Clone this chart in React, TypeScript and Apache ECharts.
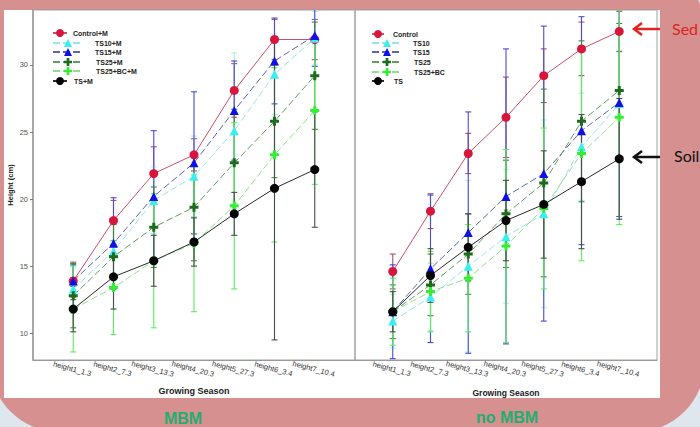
import React, { useEffect, useRef } from "react";
import * as echarts from "echarts";

// ---------- data ----------
const categories = [
  "height1_1.3",
  "height2_7.3",
  "height3_13.3",
  "height4_20.3",
  "height5_27.3",
  "height6_3.4",
  "height7_10.4",
];
const yTickValues = [10, 15, 20, 25, 30];

// MBM panel (left)
const mbmNames = ["Control+M", "TS10+M", "TS15+M", "TS25+M", "TS25+BC+M", "TS+M"];
const mbmControl = [13.9, 18.4, 21.9, 23.3, 28.1, 31.9, 31.9];
const mbmTS10 = [13.3, 16.1, 19.9, 21.7, 25.1, 29.3, 32.0];
const mbmTS15 = [13.9, 16.7, 20.2, 22.7, 26.6, 30.3, 32.2];
const mbmTS25 = [12.8, 15.7, 17.9, 19.4, 22.7, 25.8, 29.2];
const mbmTS25BC = [11.8, 13.4, 15.4, 16.7, 19.5, 23.3, 26.6];
const mbmTS = [11.8, 14.2, 15.4, 16.8, 18.9, 20.8, 22.2];
// error bar half-widths
const mbmControlErr = [1.4, 1.5, 2.0, 1.2, 2.0, 1.5, 1.5];
const mbmTS10Err = [1.8, 2.5, 2.5, 3.0, 5.8, 3.0, 2.0];
const mbmTS15Err = [1.2, 3.4, 4.9, 5.3, 3.7, 3.2, 2.3];
const mbmTS25Err = [2.4, 2.4, 3.0, 4.0, 4.0, 4.2, 4.0];
const mbmTS25BCErr = [3.2, 3.5, 5.0, 5.1, 6.2, 6.5, 5.5];
const mbmTSErr = [1.7, 2.4, 1.9, 1.8, 1.6, 11.3, 4.3];

// no MBM panel (right)
const noMbmNames = ["Control", "TS10", "TS15", "TS25", "TS25+BC", "TS"];
const noControl = [14.6, 19.1, 23.4, 26.1, 29.2, 31.2, 32.5];
const noTS10 = [10.9, 12.7, 15.0, 17.2, 18.9, 23.9, 27.1];
const noTS15 = [11.6, 14.8, 17.5, 20.2, 21.9, 25.1, 27.2];
const noTS25 = [11.6, 13.6, 15.9, 18.9, 21.2, 25.8, 28.1];
const noTS25BC = [11.6, 13.1, 14.1, 16.5, 19.3, 23.4, 26.1];
const noTS = [11.6, 14.3, 16.4, 18.4, 19.6, 21.3, 23.0];
const noControlErr = [1.3, 1.3, 1.5, 3.0, 2.0, 2.0, 1.5];
const noTS10Err = [2.0, 2.5, 6.4, 5.0, 7.0, 4.0, 4.0];
const noTS15Err = [3.5, 5.5, 9.0, 11.0, 11.0, 8.5, 8.5];
const noTS25Err = [2.0, 2.3, 3.0, 4.0, 7.0, 6.0, 5.0];
const noTS25BCErr = [2.5, 3.0, 4.0, 7.2, 6.0, 8.0, 8.0];
const noTSErr = [1.5, 2.0, 2.5, 3.0, 4.0, 5.0, 4.5];

// ---------- styles ----------
const PLUS = "path://M3,0H6V3H9V6H6V9H3V6H0V3H3Z";
const styles = [
  { symbol: "circle", marker: "#d8163c", line: "#c8506a", dash: "solid", err: "#a85070" },
  { symbol: "triangle", marker: "#38eef0", line: "#98e4e8", dash: [7, 3], err: "#a6eef0" },
  { symbol: "triangle", marker: "#1010e6", line: "#5866b4", dash: [7, 3], err: "#4a4ad6" },
  { symbol: PLUS, marker: "#1d6b1d", line: "#5fa05f", dash: [7, 3], err: "#3d8a3d" },
  { symbol: PLUS, marker: "#34ee34", line: "#8ee08e", dash: [7, 3], err: "#5cec5c" },
  { symbol: "circle", marker: "#050505", line: "#2a2a2a", dash: "solid", err: "#4a4a4a" },
];

const leftLegendLayout = [
  { left: 52, cy: 34, w: 14, pad: 1 },
  { left: 52, cy: 44, w: 30, pad: 7 },
  { left: 52, cy: 53, w: 30, pad: 7 },
  { left: 52, cy: 63, w: 30, pad: 8 },
  { left: 52, cy: 72, w: 30, pad: 8 },
  { left: 52, cy: 82, w: 14, pad: 2 },
];
const rightLegendLayout = [
  { left: 371, cy: 35, w: 12, pad: 4 },
  { left: 371, cy: 44, w: 30, pad: 6 },
  { left: 371, cy: 53, w: 30, pad: 6 },
  { left: 371, cy: 63, w: 30, pad: 7 },
  { left: 371, cy: 73, w: 30, pad: 7 },
  { left: 371, cy: 82, w: 12, pad: 5 },
];

function makeErr(color: string) {
  return (params: any, api: any) => {
    const x = api.value(0);
    const lo = api.coord([x, api.value(1)]);
    const hi = api.coord([x, api.value(2)]);
    const cap = 3;
    const style = { stroke: color, lineWidth: 1.1 };
    return {
      type: "group",
      children: [
        { type: "line", shape: { x1: lo[0], y1: lo[1], x2: hi[0], y2: hi[1] }, style },
        { type: "line", shape: { x1: lo[0] - cap, y1: lo[1], x2: lo[0] + cap, y2: lo[1] }, style },
        { type: "line", shape: { x1: hi[0] - cap, y1: hi[1], x2: hi[0] + cap, y2: hi[1] }, style },
      ],
    };
  };
}

function panel(gi: number, names: string[], vals: number[][], errs: number[][], layout: any[]) {
  const series: any[] = [];
  const legends: any[] = [];
  names.forEach((name, k) => {
    const st = styles[k];
    series.push({
      type: "custom",
      name: name + " err",
      xAxisIndex: gi,
      yAxisIndex: gi,
      clip: true,
      z: 1,
      silent: true,
      data: categories.map((c, i) => [i + 1, vals[k][i] - errs[k][i], vals[k][i] + errs[k][i]]),
      encode: { x: 0, y: [1, 2] },
      renderItem: makeErr(st.err),
    });
  });
  names.forEach((name, k) => {
    const st = styles[k];
    series.push({
      type: "line",
      name,
      xAxisIndex: gi,
      yAxisIndex: gi,
      z: 3,
      data: categories.map((c, i) => [i + 1, vals[k][i]]),
      symbol: st.symbol,
      symbolSize: 9,
      itemStyle: { color: st.marker },
      lineStyle: { color: st.line, width: 1, type: st.dash },
      emphasis: { disabled: true },
    });
    const L = layout[k];
    legends.push({
      data: [name],
      left: L.left,
      top: L.cy - 5,
      padding: 0,
      itemGap: 0,
      itemWidth: L.w,
      itemHeight: 10,
      selectedMode: false,
      textStyle: {
        fontSize: 7,
        fontWeight: "bold",
        fontFamily: "Liberation Sans",
        color: "#222",
        padding: [0, 0, 0, L.pad],
      },
    });
  });
  return { series, legends };
}

function xAxisFor(gi: number, nameGap: number, nameSize: number) {
  return {
    type: "value",
    gridIndex: gi,
    min: 0,
    max: 8,
    interval: 1,
    name: "Growing Season",
    nameLocation: "middle",
    nameGap,
    nameTextStyle: { fontSize: nameSize, fontWeight: "bold", color: "#222", fontFamily: "Liberation Sans" },
    axisLine: { show: true, lineStyle: { color: "#9a9a9a", width: 1 } },
    axisTick: { show: false },
    splitLine: { show: false },
    axisLabel: {
      formatter: (v: number) => categories[v - 1] ?? "",
      rotate: -15,
      align: "center",
      verticalAlign: "top",
      margin: 5,
      fontSize: 7.5,
      color: "#333",
      fontFamily: "Liberation Sans",
    },
  };
}

function buildOption() {
  const left = panel(
    0,
    mbmNames,
    [mbmControl, mbmTS10, mbmTS15, mbmTS25, mbmTS25BC, mbmTS],
    [mbmControlErr, mbmTS10Err, mbmTS15Err, mbmTS25Err, mbmTS25BCErr, mbmTSErr],
    leftLegendLayout
  );
  const right = panel(
    1,
    noMbmNames,
    [noControl, noTS10, noTS15, noTS25, noTS25BC, noTS],
    [noControlErr, noTS10Err, noTS15Err, noTS25Err, noTS25BCErr, noTSErr],
    rightLegendLayout
  );

  return {
    animation: false,
    backgroundColor: "#dfe7ee",
    grid: [
      { left: 33, top: 10, width: 322, height: 350, show: true, borderColor: "#a0a0a0", borderWidth: 1, backgroundColor: "transparent" },
      { left: 355, top: 10, width: 302, height: 350, show: true, borderColor: "#a0a0a0", borderWidth: 1, backgroundColor: "transparent" },
    ],
    xAxis: [xAxisFor(0, 26, 9), xAxisFor(1, 28, 8.5)],
    yAxis: [
      {
        type: "value",
        gridIndex: 0,
        min: 8,
        max: 34.1,
        name: "Height (cm)",
        nameLocation: "middle",
        nameGap: 19,
        nameRotate: 90,
        nameTextStyle: { fontSize: 7.5, fontWeight: "bold", color: "#222", fontFamily: "Liberation Sans" },
        axisLine: { show: true, lineStyle: { color: "#9a9a9a", width: 1.5 } },
        axisTick: { show: true, length: 3, customValues: yTickValues, lineStyle: { color: "#777" } },
        axisLabel: { customValues: yTickValues, fontSize: 7.5, color: "#555", margin: 5, fontFamily: "Liberation Sans" },
        splitLine: { show: false },
      },
      {
        type: "value",
        gridIndex: 1,
        min: 8,
        max: 34.1,
        axisLine: { show: false },
        axisTick: { show: false },
        axisLabel: { show: false },
        splitLine: { show: false },
      },
    ],
    legend: [...left.legends, ...right.legends],
    series: [...left.series, ...right.series],
    graphic: [
      { type: "rect", z: -20, silent: true, shape: { x: -10, y: -40, width: 715, height: 472, r: 70 }, style: { fill: "#d5908f" } },
      { type: "rect", z: -19, silent: true, shape: { x: 4, y: 10, width: 656, height: 388 }, style: { fill: "#ffffff" } },
      { type: "text", z: 20, x: 183, y: 418, style: { text: "MBM", fill: "#22ad72", fontSize: 16, fontWeight: "bold", fontFamily: "Liberation Sans", align: "center", verticalAlign: "middle" } },
      { type: "text", z: 20, x: 507, y: 417, style: { text: "no MBM", fill: "#22ad72", fontSize: 16, fontWeight: "bold", fontFamily: "Liberation Sans", align: "center", verticalAlign: "middle" } },
      { type: "line", z: 20, shape: { x1: 634, y1: 29, x2: 660, y2: 29 }, style: { stroke: "#e0241f", lineWidth: 2.5 } },
      { type: "polyline", z: 20, shape: { points: [[642, 23], [634, 29], [642, 35]] }, style: { stroke: "#e0241f", lineWidth: 2.5, fill: null } },
      { type: "text", z: 20, x: 672, y: 28, style: { text: "Sed", fill: "#e0241f", fontSize: 16, fontFamily: "Lato", verticalAlign: "middle" } },
      { type: "line", z: 20, shape: { x1: 634, y1: 157, x2: 660, y2: 157 }, style: { stroke: "#111", lineWidth: 2.5 } },
      { type: "polyline", z: 20, shape: { points: [[642, 151], [634, 157], [642, 163]] }, style: { stroke: "#111", lineWidth: 2.5, fill: null } },
      { type: "text", z: 20, x: 674, y: 155, style: { text: "Soil", fill: "#111", fontSize: 16, fontFamily: "Lato", verticalAlign: "middle" } },
    ],
  };
}

export default function App() {
  const ref = useRef<HTMLDivElement>(null);
  useEffect(() => {
    const chart = echarts.init(ref.current as HTMLDivElement, null, { renderer: "svg" });
    chart.setOption(buildOption() as any);
    return () => chart.dispose();
  }, []);
  return <div ref={ref} style={{ position: "fixed", left: 0, top: 0, width: 700, height: 427 }} />;
}
